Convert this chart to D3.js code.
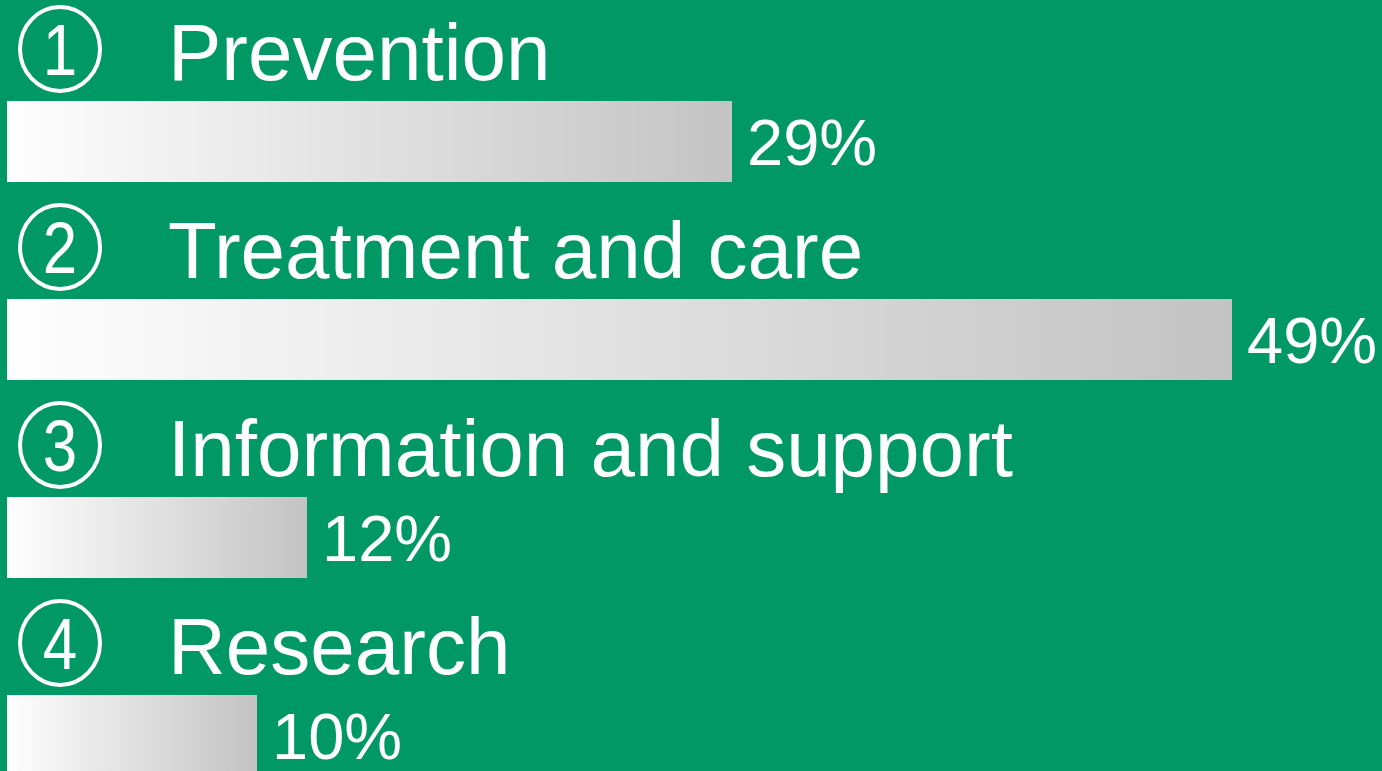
<!DOCTYPE html>
<html><head><meta charset="utf-8">
<script src="https://cdn.jsdelivr.net/npm/d3@7"></script>
<style>html,body{margin:0;padding:0;background:#009865;overflow:hidden}</style>
</head><body>
<svg id="c" width="1382" height="771"></svg>
<script>
const numbers = ["1", "2", "3", "4"];
const categories = ["Prevention", "Treatment and care", "Information and support", "Research"];
const values = [29, 49, 12, 10];
const valueLabels = ["29%", "49%", "12%", "10%"];

const W = 1382, H = 771;
const svg = d3.select("#c");
svg.append("rect").attr("width", W).attr("height", H).attr("fill", "#009865");

const defs = svg.append("defs");
const grad = defs.append("linearGradient").attr("id", "g")
  .attr("x1", "0").attr("y1", "0").attr("x2", "1").attr("y2", "0");
grad.append("stop").attr("offset", "0").attr("stop-color", "#fefefe");
grad.append("stop").attr("offset", "1").attr("stop-color", "#c3c3c3");

const x = d3.scaleLinear().domain([0, 50]).range([7, 1257]);
const y = d3.scaleBand().domain(categories).range([0, 792]).padding(0);

const rows = svg.selectAll("g.row").data(categories).join("g")
  .attr("class", "row")
  .attr("transform", d => `translate(0,${y(d)})`);

rows.append("rect")
  .attr("x", x(0)).attr("y", 101)
  .attr("width", (d, i) => x(values[i]) - x(0))
  .attr("height", 81)
  .attr("fill", "url(#g)");

rows.append("ellipse")
  .attr("cx", 60).attr("cy", 49).attr("rx", 40).attr("ry", 42)
  .attr("fill", "none").attr("stroke", "#fff").attr("stroke-width", 4);

rows.append("text")
  .attr("transform", "translate(60,75) scale(0.86,1)")
  .attr("text-anchor", "middle")
  .attr("font-family", "Liberation Sans, Arial, sans-serif")
  .attr("font-size", 72).attr("fill", "#fff")
  .text((d, i) => numbers[i]);

rows.append("text")
  .attr("x", 168).attr("y", 80)
  .attr("font-family", "Liberation Sans, Arial, sans-serif")
  .attr("font-size", 80).attr("fill", "#fff")
  .text(d => d);

rows.append("text")
  .attr("x", (d, i) => x(values[i]) + 15).attr("y", 165)
  .attr("font-family", "Liberation Sans, Arial, sans-serif")
  .attr("font-size", 65).attr("fill", "#fff")
  .text((d, i) => valueLabels[i]);
</script>
</body></html>
